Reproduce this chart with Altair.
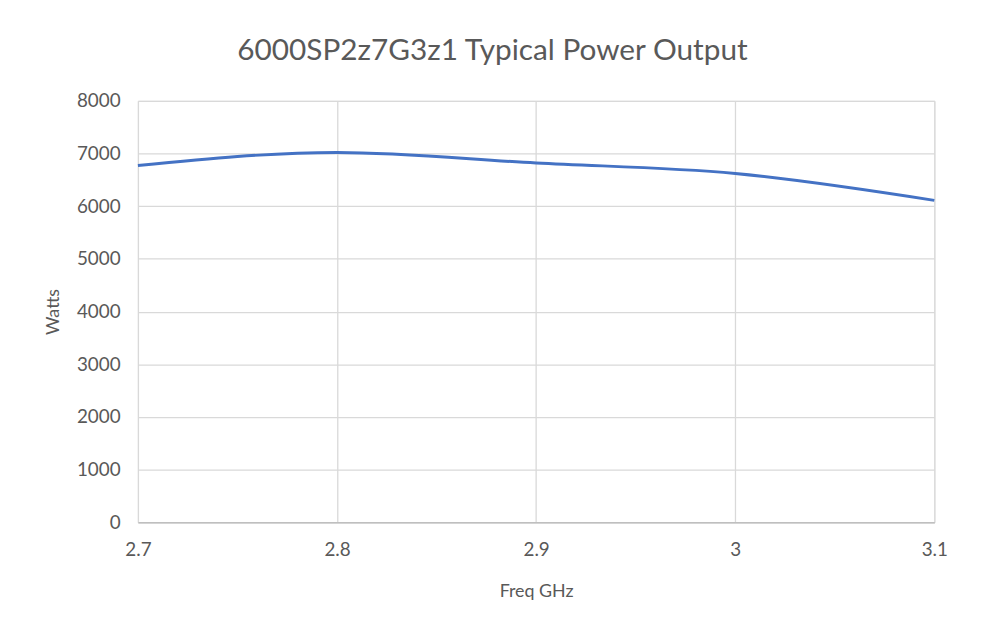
import altair as alt
import pandas as pd

freq = [2.7, 2.8, 2.9, 3.0, 3.1]
watts = [6770, 7020, 6820, 6620, 6110]
x_ticks = [2.7, 2.8, 2.9, 3.0, 3.1]
y_ticks = [0, 1000, 2000, 3000, 4000, 5000, 6000, 7000, 8000]

df = pd.DataFrame({"freq": freq, "watts": watts})

FONT = "Lato"
GRAY = "#595959"

chart = alt.Chart(df).mark_line(
    color="#4472C4", strokeWidth=3, interpolate="monotone"
).encode(
    x=alt.X("freq:Q", title="Freq GHz",
            scale=alt.Scale(domain=[2.7, 3.1], nice=False, zero=False),
            axis=alt.Axis(values=x_ticks, labelExpr="datum.value == 3 ? '3' : format(datum.value, '.1f')",
                          grid=True, gridColor="#d9d9d9", gridWidth=1.3,
                          domain=True, domainColor="#bfbfbf", domainWidth=1.5,
                          ticks=False, labelPadding=18, titlePadding=24,
                          labelFlush=False, labelOverlap=False,
                          labelFontSize=19, titleFontSize=18, labelColor=GRAY, titleColor=GRAY,
                          labelFont=FONT, titleFont=FONT, titleFontWeight="normal")),
    y=alt.Y("watts:Q", title="Watts",
            scale=alt.Scale(domain=[0, 8000], nice=False),
            axis=alt.Axis(values=y_ticks, format="d", grid=True, gridColor="#d9d9d9", gridWidth=1.3,
                          domain=False, ticks=False, labelPadding=18, titlePadding=14,
                          labelFlush=False, labelOverlap=False,
                          labelFontSize=19, titleFontSize=18, labelColor=GRAY, titleColor=GRAY,
                          labelFont=FONT, titleFont=FONT, titleFontWeight="normal")),
).properties(
    width=803, height=425,
    title=alt.TitleParams("6000SP2z7G3z1 Typical Power Output", fontSize=30,
                          font=FONT, color=GRAY, fontWeight="normal",
                          anchor="middle", dx=-44, offset=26),
    autosize=alt.AutoSizeParams(type="none"),
    padding={"left": 131, "top": 91, "right": 40, "bottom": 100},
).configure_view(stroke=None).configure(background="white")

chart.save("out.html", embed_options={"renderer": "svg", "actions": False})
